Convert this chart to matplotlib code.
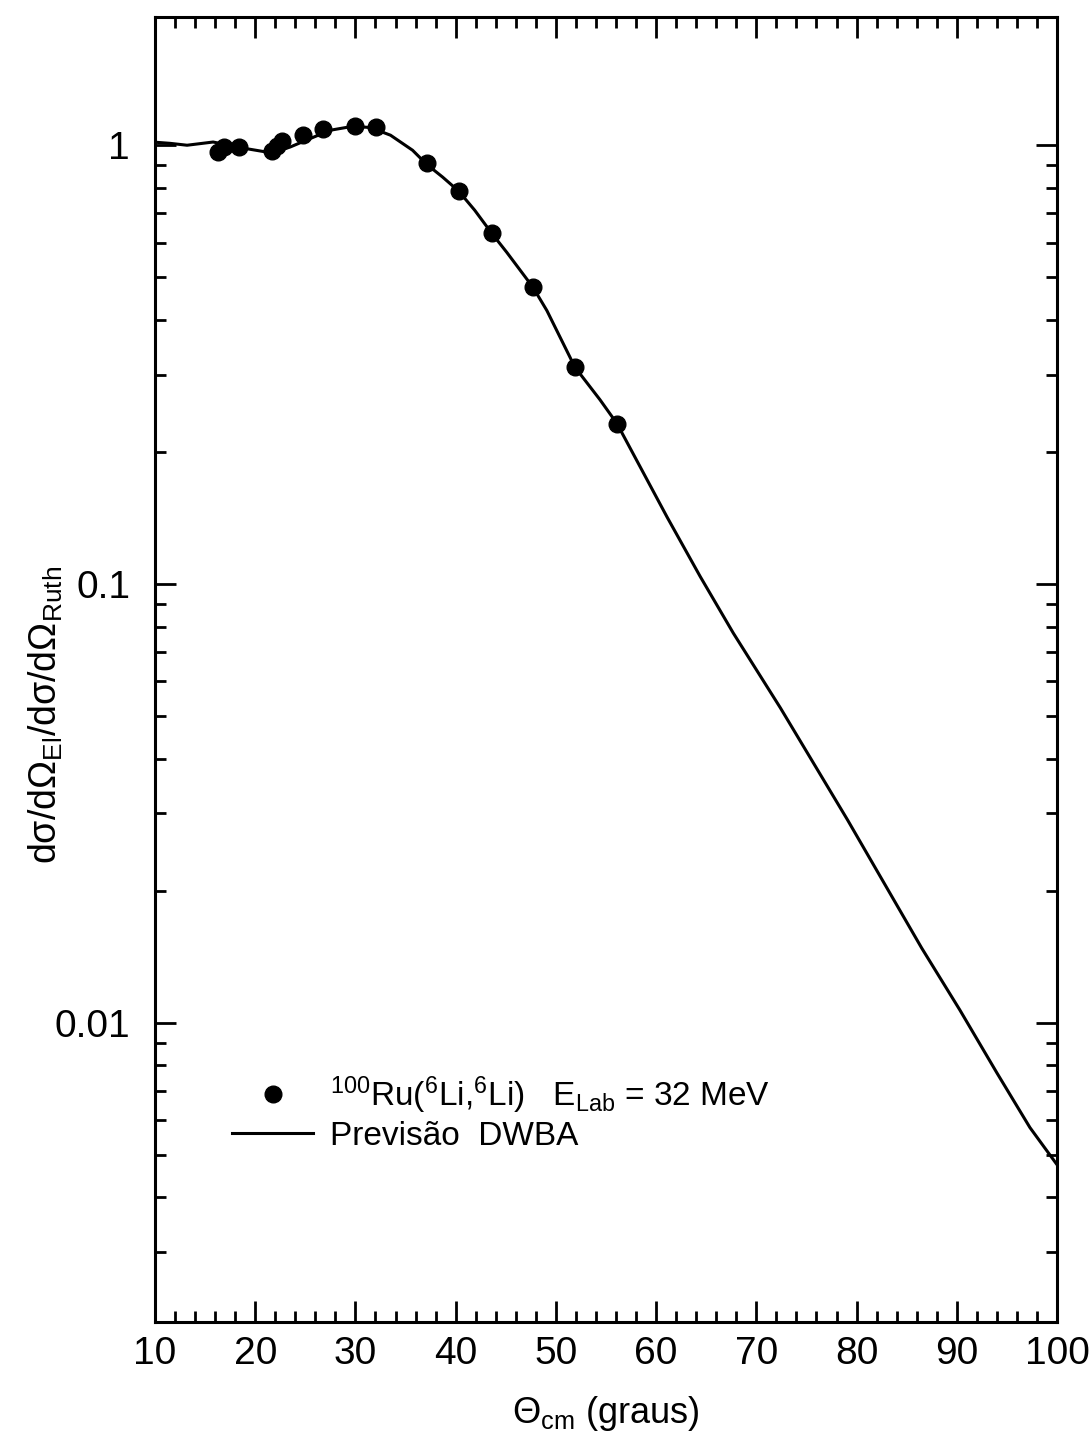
import matplotlib
matplotlib.use("Agg")
import matplotlib.pyplot as plt
from matplotlib import font_manager
from matplotlib.ticker import FixedLocator, NullFormatter, LogLocator, FixedFormatter

# ---------------- data ----------------
exp_theta = [16.3, 16.9, 18.4, 21.7, 22.2, 22.7, 24.8, 26.8, 30.0, 32.1,
             37.1, 40.3, 43.6, 47.7, 51.9, 56.1]
exp_ratio = [0.964, 0.99, 0.99, 0.969, 0.995, 1.02, 1.054, 1.088, 1.105, 1.099,
             0.910, 0.786, 0.630, 0.475, 0.312, 0.232]

dwba_theta = [10, 11.5, 13.2, 15.8, 18.8, 21.7, 23.5, 25.5, 27.5, 29.8, 31.5,
              33.5, 35.7, 37.1, 38.7, 40.3, 41.9, 43.6, 45.1, 47.7, 49.1, 51.9,
              54.4, 56.1, 61.1, 64.4, 67.7, 72.4, 79.1, 86.5, 90.3, 94.0, 97.3, 100]
dwba_ratio = [1.016, 1.01, 1.0, 1.017, 0.985, 0.960, 0.991, 1.036, 1.082, 1.105,
              1.097, 1.054, 0.974, 0.905, 0.846, 0.786, 0.711, 0.630, 0.570,
              0.475, 0.42, 0.312, 0.263, 0.232, 0.142, 0.104, 0.0773, 0.0522,
              0.0290, 0.0148, 0.0107, 0.00769, 0.00577, 0.00475]

x_ticks = [10, 20, 30, 40, 50, 60, 70, 80, 90, 100]
x_tick_labels = ["10", "20", "30", "40", "50", "60", "70", "80", "90", "100"]
y_ticks = [0.01, 0.1, 1]
y_tick_labels = ["0.01", "0.1", "1"]

label_exp = r"$^{100}$Ru($^{6}$Li,$^{6}$Li)   E$_{\mathrm{Lab}}$ = 32 MeV"
label_dwba = "Previsão  DWBA"
xlabel = r"Θ$_{\mathrm{cm}}$ (graus)"
ylabel = r"dσ/dΩ$_{\mathrm{El}}$/dσ/dΩ$_{\mathrm{Ruth}}$"

# ---------------- fonts ----------------
names = {f.name for f in font_manager.fontManager.ttflist}
fam = "Liberation Sans Narrow" if "Liberation Sans Narrow" in names else "Liberation Sans"
plt.rcParams["font.family"] = [fam, "DejaVu Sans"]
plt.rcParams["mathtext.fontset"] = "custom"
plt.rcParams["mathtext.rm"] = fam
plt.rcParams["mathtext.it"] = fam
plt.rcParams["mathtext.bf"] = fam

fig = plt.figure(figsize=(10.9, 14.4), dpi=100)
W, H = 1090, 1440
left, right, top, bottom = 155, 1057, 17, 1322
ax = fig.add_axes([left / W, 1 - bottom / H, (right - left) / W, (bottom - top) / H])

ax.set_yscale("log")
ax.set_xlim(10, 100)
ax.set_ylim(0.00208, 1.96)

ax.plot(dwba_theta, dwba_ratio, color="black", lw=2.2, label=label_dwba, zorder=2,
        solid_joinstyle="round")
ax.plot(exp_theta, exp_ratio, linestyle="none", marker="o", ms=12, color="black",
        label=label_exp, zorder=3)

for s in ax.spines.values():
    s.set_linewidth(2.2)

ax.xaxis.set_major_locator(FixedLocator(x_ticks))
ax.xaxis.set_major_formatter(FixedFormatter(x_tick_labels))
ax.xaxis.set_minor_locator(FixedLocator(list(range(12, 100, 2))))
ax.yaxis.set_major_locator(FixedLocator(y_ticks))
ax.yaxis.set_major_formatter(FixedFormatter(y_tick_labels))
ax.yaxis.set_minor_locator(LogLocator(base=10, subs=range(2, 10), numticks=20))
ax.yaxis.set_minor_formatter(NullFormatter())

ax.tick_params(which="both", direction="in", top=True, right=True, width=2.0)
ax.tick_params(which="major", length=15)
ax.tick_params(which="minor", length=8)
ax.tick_params(axis="x", which="major", labelsize=28, pad=10)
ax.tick_params(axis="y", which="major", labelsize=28, pad=18)

ax.set_xlabel(xlabel, fontsize=26, labelpad=16)
ax.set_ylabel(ylabel, fontsize=27)
ax.yaxis.set_label_coords(-0.1, 0.465)

h, l = ax.get_legend_handles_labels()
leg = ax.legend(h[::-1], l[::-1], loc="upper left", bbox_to_anchor=(0.085, 0.19),
                frameon=False, fontsize=24, handlelength=2.45, handletextpad=0.5,
                labelspacing=0.15, borderpad=0, borderaxespad=0, numpoints=1)

fig.savefig("out.png", dpi=100, facecolor="white")
